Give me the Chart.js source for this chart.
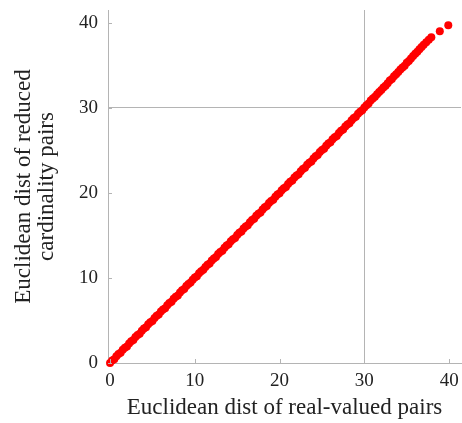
<!DOCTYPE html>
<html>
<head>
<meta charset="utf-8">
<script src="https://cdn.jsdelivr.net/npm/chart.js@4"></script>
<style>
  body { margin: 0; background: #fff; }
  canvas { display: block; }
</style>
</head>
<body>
<canvas id="distChart" width="462" height="423"></canvas>
<script>
// distances
const realDist = [
  0, 0.25, 0.5, 0.75, 1, 1.25, 1.5, 1.75, 2, 2.25,
  2.5, 2.75, 3, 3.25, 3.5, 3.75, 4, 4.25, 4.5, 4.75,
  5, 5.25, 5.5, 5.75, 6, 6.25, 6.5, 6.75, 7, 7.25,
  7.5, 7.75, 8, 8.25, 8.5, 8.75, 9, 9.25, 9.5, 9.75,
  10, 10.25, 10.5, 10.75, 11, 11.25, 11.5, 11.75, 12, 12.25,
  12.5, 12.75, 13, 13.25, 13.5, 13.75, 14, 14.25, 14.5, 14.75,
  15, 15.25, 15.5, 15.75, 16, 16.25, 16.5, 16.75, 17, 17.25,
  17.5, 17.75, 18, 18.25, 18.5, 18.75, 19, 19.25, 19.5, 19.75,
  20, 20.25, 20.5, 20.75, 21, 21.25, 21.5, 21.75, 22, 22.25,
  22.5, 22.75, 23, 23.25, 23.5, 23.75, 24, 24.25, 24.5, 24.75,
  25, 25.25, 25.5, 25.75, 26, 26.25, 26.5, 26.75, 27, 27.25,
  27.5, 27.75, 28, 28.25, 28.5, 28.75, 29, 29.25, 29.5, 29.75,
  30, 30.25, 30.5, 30.75, 31, 31.25, 31.5, 31.75, 32, 32.25,
  32.5, 32.75, 33, 33.25, 33.5, 33.75, 34, 34.25, 34.5, 34.75,
  35, 35.25, 35.5, 35.75, 36, 36.25, 36.5, 36.75, 37, 37.3,
  37.6, 37.9, 38.9, 39.9
];
const reducedDist = [
  0, 0.3, 0.45, 0.8, 1.05, 1.2, 1.55, 1.8, 1.95, 2.3,
  2.55, 2.7, 3.05, 3.3, 3.45, 3.8, 4.05, 4.2, 4.55, 4.8,
  4.95, 5.3, 5.55, 5.7, 6.05, 6.3, 6.45, 6.8, 7.05, 7.2,
  7.55, 7.8, 7.95, 8.3, 8.55, 8.7, 9.05, 9.3, 9.45, 9.8,
  10.05, 10.2, 10.55, 10.8, 10.95, 11.3, 11.55, 11.7, 12.05, 12.3,
  12.45, 12.8, 13.05, 13.2, 13.55, 13.8, 13.95, 14.3, 14.55, 14.7,
  15.05, 15.3, 15.45, 15.8, 16.05, 16.2, 16.55, 16.8, 16.95, 17.3,
  17.55, 17.7, 18.05, 18.3, 18.45, 18.8, 19.05, 19.2, 19.55, 19.8,
  19.95, 20.3, 20.55, 20.7, 21.05, 21.3, 21.45, 21.8, 22.05, 22.2,
  22.55, 22.8, 22.95, 23.3, 23.55, 23.7, 24.05, 24.3, 24.45, 24.8,
  25.05, 25.2, 25.55, 25.8, 25.95, 26.3, 26.55, 26.7, 27.05, 27.3,
  27.45, 27.8, 28.05, 28.2, 28.55, 28.8, 28.95, 29.3, 29.55, 29.7,
  30.05, 30.3, 30.5, 30.85, 31.1, 31.3, 31.6, 31.85, 32.1, 32.4,
  32.6, 32.9, 33.2, 33.4, 33.7, 33.95, 34.2, 34.5, 34.75, 34.95,
  35.3, 35.5, 35.8, 36.1, 36.35, 36.6, 36.9, 37.15, 37.4, 37.7,
  38.0, 38.3, 39.0, 39.7
];
const tickValues = [0, 10, 20, 30, 40];
const refLine = 30;

const axisGray = '#b4b4b4';
const serif = 'Liberation Serif';

// small tick marks pointing into the plot
const innerTicks = {
  id: 'innerTicks',
  afterDraw(chart) {
    const { ctx, chartArea, scales } = chart;
    ctx.save();
    ctx.strokeStyle = axisGray;
    ctx.lineWidth = 1;
    ctx.beginPath();
    tickValues.forEach(v => {
      const px = Math.round(scales.x.getPixelForValue(v)) + 0.5;
      ctx.moveTo(px, chartArea.bottom);
      ctx.lineTo(px, chartArea.bottom - 4);
      const py = Math.round(scales.y.getPixelForValue(v)) + 0.5;
      ctx.moveTo(chartArea.left, py);
      ctx.lineTo(chartArea.left + 4, py);
    });
    ctx.stroke();
    ctx.restore();
  }
};

const ctx = document.getElementById('distChart').getContext('2d');
new Chart(ctx, {
  type: 'scatter',
  data: {
    datasets: [{
      data: realDist.map((x, i) => ({ x: x, y: reducedDist[i] })),
      backgroundColor: '#ff0000',
      borderWidth: 0,
      pointRadius: 4,
      clip: false
    }]
  },
  options: {
    responsive: false,
    animation: false,
    layout: { autoPadding: false, padding: { top: 10, right: 1 } },
    plugins: {
      legend: { display: false },
      tooltip: { enabled: false }
    },
    scales: {
      x: {
        type: 'linear',
        min: -0.24,
        max: 41.4,
        afterBuildTicks: s => { s.ticks = tickValues.map(v => ({ value: v })); },
        afterFit: s => { s.height = 60; s.paddingLeft = 0; s.paddingRight = 0; },
        grid: {
          drawTicks: false,
          color: c => (c.tick && c.tick.value === refLine ? axisGray : 'rgba(0,0,0,0)')
        },
        border: { display: true, color: axisGray },
        ticks: {
          padding: 0,
          color: '#222',
          font: { family: serif, size: 19, lineHeight: 1.94 },
          maxRotation: 0
        },
        title: {
          display: true,
          text: 'Euclidean dist of real-valued pairs',
          color: '#222',
          font: { family: serif, size: 23, lineHeight: 1.0 },
          padding: { top: 0, bottom: 4 }
        }
      },
      y: {
        type: 'linear',
        min: 0,
        max: 41.5,
        afterBuildTicks: s => { s.ticks = tickValues.map(v => ({ value: v })); },
        afterFit: s => { s.width = 108; s.paddingTop = 0; s.paddingBottom = 0; },
        grid: {
          drawTicks: false,
          color: c => (c.tick && c.tick.value === refLine ? axisGray : 'rgba(0,0,0,0)')
        },
        border: { display: true, color: axisGray },
        ticks: {
          padding: 10,
          color: '#222',
          font: { family: serif, size: 19 }
        },
        title: {
          display: true,
          text: ['Euclidean dist of reduced', 'cardinality pairs'],
          color: '#222',
          font: { family: serif, size: 23, lineHeight: 1.0 },
          padding: { top: 12, bottom: 0 }
        }
      }
    }
  },
  plugins: [innerTicks]
});
</script>
</body>
</html>
